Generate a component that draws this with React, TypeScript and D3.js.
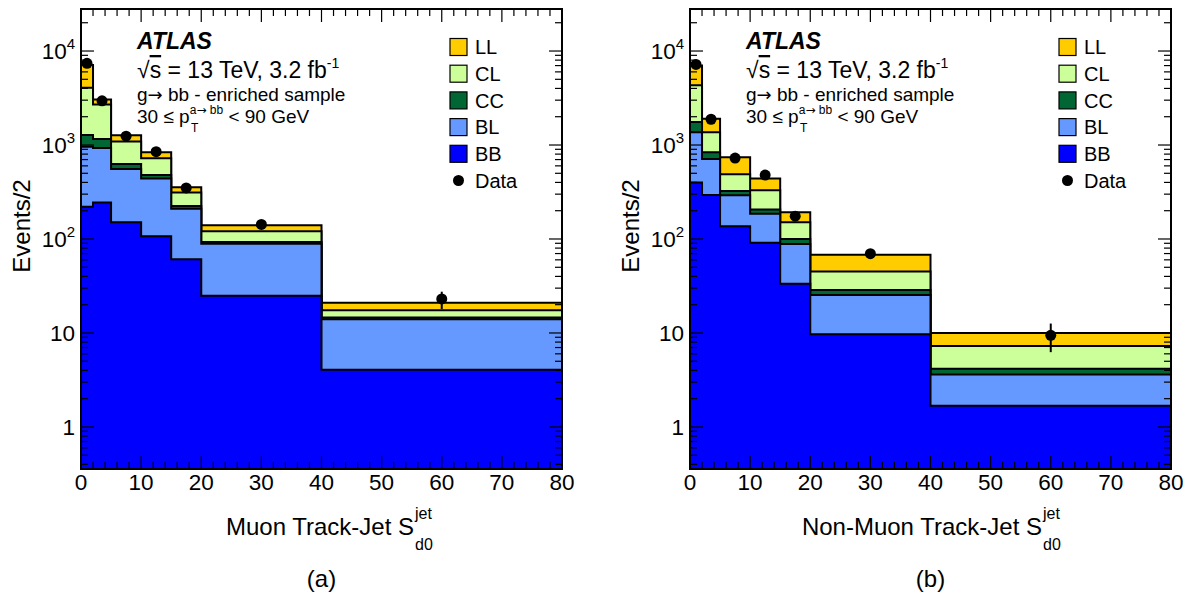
import React from "react";
import * as d3 from "d3";

// ---------- data ----------
const BIN_EDGES = [0, 2, 5, 10, 15, 20, 40, 80];
const BIN_CENTERS = [1, 3.5, 7.5, 12.5, 17.5, 30, 60];
const SAMPLES = ["BB", "BL", "CC", "CL", "LL"]; // stack order, bottom -> top
const LEGEND_ORDER = ["LL", "CL", "CC", "BL", "BB"];
const SAMPLE_COLORS: Record<string, string> = {
  BB: "#0000ff",
  BL: "#6699ff",
  CC: "#006633",
  CL: "#ccff99",
  LL: "#ffcc00",
};

// panel (a): Muon track-jet
const A_BB = [220, 244, 151, 107, 61, 24.9, 4.05];
const A_BL = [740, 686, 404, 334, 149, 64, 9.95];
const A_CC = [320, 230, 72, 38, 14, 4, 0.6];
const A_CL = [2780, 1530, 463, 243, 88, 28, 2.9];
const A_LL = [3040, 360, 180, 118, 43, 19, 3.5];
const A_DATA = [7400, 2950, 1240, 850, 349, 143, 23];
const A_ERR_LO = [0, 0, 0, 0, 0, 0, 5];
const A_ERR_HI = [0, 0, 0, 0, 0, 0, 4.5];

// panel (b): Non-muon track-jet
const B_BB = [399, 294, 137, 91, 33.3, 9.7, 1.68];
const B_BL = [972, 416, 155, 95, 55.3, 15.6, 1.93];
const B_CC = [383, 127, 33, 20, 11.4, 3.4, 0.54];
const B_CL = [2576, 534, 165, 124, 51, 16.3, 3.11];
const B_LL = [2670, 534, 250, 111, 42, 23, 2.74];
const B_DATA = [7200, 1880, 727, 479, 175, 69.7, 9.45];
const B_ERR_LO = [0, 0, 0, 0, 0, 0, 3.2];
const B_ERR_HI = [0, 0, 0, 0, 0, 0, 3.15];

const X_TICKS = [0, 10, 20, 30, 40, 50, 60, 70, 80];
const Y_TICKS = [1, 10, 100, 1000, 10000];
const Y_TICK_BASE = ["1", "10", "10", "10", "10"];
const Y_TICK_EXP = ["", "", "2", "3", "4"];

const FONT = "'Liberation Sans', Arial, Helvetica, sans-serif";
const ARROW_FONT = "'DejaVu Sans', sans-serif";

// ---------- layout ----------
const W = 1195;
const H = 602;
const PLOT_W = 481;
const PLOT_TOP = 9;
const PLOT_BOTTOM = 469;
const Y_DOMAIN: [number, number] = [0.357, 28000];

type PanelProps = {
  left: number;
  comps: Record<string, number[]>;
  dataVals: number[];
  errLo: number[];
  errHi: number[];
  xTitle: string;
  xTitleEnd: number;
  tag: string;
  id: string;
};

function Panel({ left, comps, dataVals, errLo, errHi, xTitle, xTitleEnd, tag, id }: PanelProps) {
  const right = left + PLOT_W;
  const x = d3.scaleLinear().domain([0, 80]).range([left, right]);
  const y = d3.scaleLog().domain(Y_DOMAIN).range([PLOT_BOTTOM, PLOT_TOP]);

  const rows = BIN_CENTERS.map((_, i) => {
    const r: Record<string, number> = {};
    SAMPLES.forEach((s) => (r[s] = comps[s][i]));
    return r;
  });
  const stacked = d3.stack<Record<string, number>>().keys(SAMPLES)(rows);

  const area = d3
    .area<{ e: number; top: number }>()
    .x((d) => x(d.e))
    .y0(PLOT_BOTTOM + 5)
    .y1((d) => y(d.top))
    .curve(d3.curveStepAfter);

  const layers = stacked
    .map((series) => {
      const pts = BIN_EDGES.map((e, i) => ({
        e,
        top: series[Math.min(i, series.length - 1)][1],
      }));
      return { key: series.key, d: area(pts) || "" };
    })
    .reverse(); // draw top-most cumulative first

  const yMinor: { v: number; major: boolean }[] = [];
  for (let dec = -1; dec <= 4; dec++) {
    for (let m = 1; m <= 9; m++) {
      const v = m * Math.pow(10, dec);
      if (v >= Y_DOMAIN[0] && v <= Y_DOMAIN[1]) yMinor.push({ v, major: m === 1 });
    }
  }
  const xMinor: { v: number; major: boolean }[] = [];
  for (let v = 0; v <= 80; v += 2) xMinor.push({ v, major: v % 10 === 0 });

  const ox = left - 81;
  const legendRowH = 26.7;

  return (
    <g>
      <defs>
        <clipPath id={`clip-${id}`}>
          <rect x={left} y={PLOT_TOP} width={PLOT_W} height={PLOT_BOTTOM - PLOT_TOP} />
        </clipPath>
      </defs>
      <g clipPath={`url(#clip-${id})`}>
        {layers.map((l) => (
          <path
            key={l.key}
            d={l.d}
            fill={SAMPLE_COLORS[l.key as string]}
            stroke="#000"
            strokeWidth={2}
          />
        ))}
      </g>

      {yMinor.map((t, i) => {
        const len = t.major ? 13 : 7;
        const yy = y(t.v);
        return (
          <g key={`yt${i}`} stroke="#000" strokeWidth={1.2}>
            <line x1={left} x2={left + len} y1={yy} y2={yy} />
            <line x1={right} x2={right - len} y1={yy} y2={yy} />
          </g>
        );
      })}
      {xMinor.map((t, i) => {
        const len = t.major ? 13 : 7;
        const xx = x(t.v);
        return (
          <g key={`xt${i}`} stroke="#000" strokeWidth={1.2}>
            <line x1={xx} x2={xx} y1={PLOT_BOTTOM} y2={PLOT_BOTTOM - len} />
            <line x1={xx} x2={xx} y1={PLOT_TOP} y2={PLOT_TOP + len} />
          </g>
        );
      })}

      <rect
        x={left}
        y={PLOT_TOP}
        width={PLOT_W}
        height={PLOT_BOTTOM - PLOT_TOP}
        fill="none"
        stroke="#000"
        strokeWidth={2}
      />

      {dataVals.map((v, i) => (
        <g key={`d${i}`}>
          {errLo[i] + errHi[i] > 0 && (
            <line
              x1={x(BIN_CENTERS[i])}
              x2={x(BIN_CENTERS[i])}
              y1={y(v - errLo[i])}
              y2={y(v + errHi[i])}
              stroke="#000"
              strokeWidth={2}
            />
          )}
          <circle cx={x(BIN_CENTERS[i])} cy={y(v)} r={5.5} fill="#000" />
        </g>
      ))}

      <g fontFamily={FONT} fill="#000">
        {X_TICKS.map((t) => (
          <text key={`xl${t}`} x={x(t)} y={490} fontSize={22.5} textAnchor="middle">
            {t}
          </text>
        ))}
        {Y_TICKS.map((t, i) => (
          <text key={`yl${t}`} x={left - 6} y={y(t) + 8} fontSize={22.5} textAnchor="end">
            {Y_TICK_BASE[i]}
            {Y_TICK_EXP[i] && (
              <tspan dy={-10} fontSize={15}>
                {Y_TICK_EXP[i]}
              </tspan>
            )}
          </text>
        ))}
        <text
          transform={`translate(${left - 51},226) rotate(-90)`}
          fontSize={24}
          textAnchor="middle"
        >
          Events/2
        </text>
        <text x={xTitleEnd} y={535} fontSize={24} textAnchor="end">
          {xTitle}
        </text>
        <text x={xTitleEnd + 1} y={519} fontSize={16}>
          jet
        </text>
        <text x={xTitleEnd + 1} y={550} fontSize={16}>
          d0
        </text>
        <text x={left + PLOT_W / 2} y={587} fontSize={24} textAnchor="middle">
          {tag}
        </text>

        <text x={137 + ox} y={49} fontSize={23} fontWeight="bold" fontStyle="italic">
          ATLAS
        </text>
        <text x={137 + ox} y={78} fontSize={23}>
          √<tspan textDecoration="overline">s</tspan> = 13 TeV, 3.2 fb
          <tspan dy={-10} fontSize={14}>
            -1
          </tspan>
        </text>
        <text x={137 + ox} y={101} fontSize={19}>
          g<tspan fontFamily={ARROW_FONT} fontSize={18}>→</tspan> bb - enriched sample
        </text>
        <text x={137 + ox} y={123} fontSize={19}>
          30 ≤ p
          <tspan dy={-9} fontSize={12}>
            a<tspan fontFamily={ARROW_FONT}>→</tspan> bb
          </tspan>
          <tspan dy={9} fontSize={19}>
            {" "}
            &lt; 90 GeV
          </tspan>
        </text>
        <text x={191 + ox} y={132} fontSize={12}>
          T
        </text>

        {LEGEND_ORDER.map((s, i) => (
          <g key={`lg${s}`}>
            <rect
              x={450 + ox}
              y={38.5 + i * legendRowH}
              width={17}
              height={17}
              fill={SAMPLE_COLORS[s]}
              stroke="#000"
              strokeWidth={1.2}
            />
            <text x={475 + ox} y={47 + i * legendRowH + 7.2} fontSize={20}>
              {s}
            </text>
          </g>
        ))}
        <circle cx={458.5 + ox} cy={47 + 5 * legendRowH} r={5.5} fill="#000" />
        <text x={475 + ox} y={47 + 5 * legendRowH + 7.2} fontSize={20}>
          Data
        </text>
      </g>
    </g>
  );
}

export default function App() {
  const compsA = { BB: A_BB, BL: A_BL, CC: A_CC, CL: A_CL, LL: A_LL };
  const compsB = { BB: B_BB, BL: B_BL, CC: B_CC, CL: B_CL, LL: B_LL };
  return (
    <svg
      width={W}
      height={H}
      viewBox={`0 0 ${W} ${H}`}
      style={{ position: "absolute", left: 0, top: 0, background: "#fff" }}
    >
      <rect x={0} y={0} width={W} height={H} fill="#fff" />
      <Panel
        id="a"
        left={81}
        comps={compsA}
        dataVals={A_DATA}
        errLo={A_ERR_LO}
        errHi={A_ERR_HI}
        xTitle="Muon Track-Jet S"
        xTitleEnd={414}
        tag="(a)"
      />
      <Panel
        id="b"
        left={690}
        comps={compsB}
        dataVals={B_DATA}
        errLo={B_ERR_LO}
        errHi={B_ERR_HI}
        xTitle="Non-Muon Track-Jet S"
        xTitleEnd={1042}
        tag="(b)"
      />
    </svg>
  );
}
